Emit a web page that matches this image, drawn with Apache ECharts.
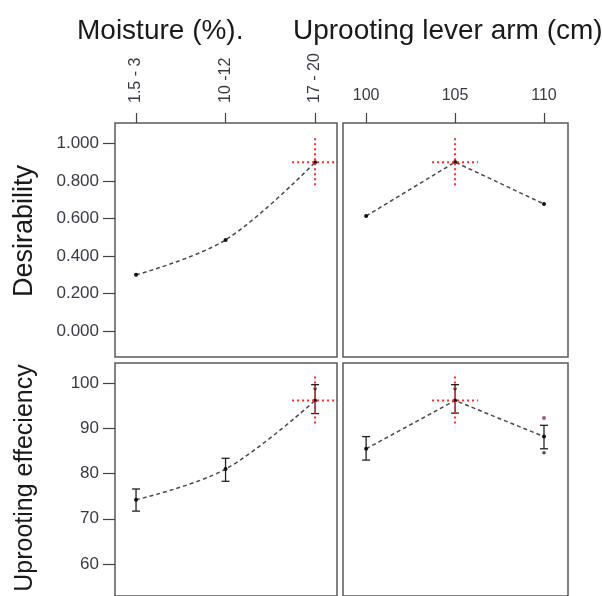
<!DOCTYPE html>
<html>
<head>
<meta charset="utf-8">
<script src="https://cdn.jsdelivr.net/npm/echarts@6/dist/echarts.min.js"></script>
<style>
html,body{margin:0;padding:0;background:#fff;}
#c{width:602px;height:596px;}
</style>
</head>
<body>
<div id="c"></div>
<script>
// ---- data ----
const moistureCats = ['1.5 - 3', '10 -12', '17 - 20'];
const moistureIdx = [0, 1, 2];
const leverVals = [100, 105, 110];
const desirTicks = [0, 0.2, 0.4, 0.6, 0.8, 1.0];
const effTicks = [60, 70, 80, 90, 100];

const desirMoisture = [0.300, 0.486, 0.899];
const desirLever = [0.613, 0.900, 0.677];

const effMoisture = [74.2, 81.0, 96.2];
const effMoistureLow = [71.7, 78.3, 93.3];
const effMoistureHigh = [76.6, 83.4, 99.7];

const effLever = [85.5, 96.2, 88.2];
const effLeverLow = [83.0, 93.4, 85.5];
const effLeverHigh = [88.2, 99.7, 90.7];

const extraDotsMoisture = [[2, 98.8]];
const extraDotsLever = [[105, 98.8], [110, 84.6]];
const outlierLever = [[110, 92.3]];

const optMoisture = 2, optLever = 105, optDesir = 0.899, optEff = 96.2;

// ---- helpers ----
const xLabelFont = {fontFamily: 'Liberation Sans, Arial, sans-serif', fontSize: 16, color: '#3a3a46'};
const yLabelFont = {fontFamily: 'Liberation Sans, Arial, sans-serif', fontSize: 17, color: '#3a3a46'};
const lineStyle = {color: '#4a4a4a', width: 1.5, type: [4, 3]};
const pts = (xs, ys) => xs.map((x, i) => [x, ys[i]]);
const errData = (xs, lo, hi) => xs.map((x, i) => [x, lo[i], hi[i]]);

function errRender(params, api) {
  const x = api.value(0);
  const a = api.coord([x, api.value(1)]);
  const b = api.coord([x, api.value(2)]);
  const w = 4;
  const st = {stroke: '#222', lineWidth: 1.3};
  return {type: 'group', children: [
    {type: 'line', shape: {x1: a[0], y1: a[1], x2: b[0], y2: b[1]}, style: st},
    {type: 'line', shape: {x1: a[0]-w, y1: a[1], x2: a[0]+w, y2: a[1]}, style: st},
    {type: 'line', shape: {x1: b[0]-w, y1: b[1], x2: b[0]+w, y2: b[1]}, style: st}
  ]};
}
function crossRender(params, api) {
  const c = api.coord([api.value(0), api.value(1)]);
  const st = {stroke: '#ff2a2a', lineWidth: 2, lineDash: [2, 3]};
  return {type: 'group', children: [
    {type: 'line', shape: {x1: c[0]-23, y1: c[1], x2: c[0]+23, y2: c[1]}, style: st},
    {type: 'line', shape: {x1: c[0], y1: c[1]-24, x2: c[0], y2: c[1]+24}, style: st}
  ]};
}

const chart = echarts.init(document.getElementById('c'), null, {renderer: 'canvas'});

const gridBase = {show: true, borderColor: '#5a5a5a', borderWidth: 1.5, backgroundColor: '#fff'};
const noLine = {show: false, onZero: false};
const tickStyle = {color: '#444', width: 1.2};

const option = {
  animation: false,
  backgroundColor: '#fff',
  grid: [
    Object.assign({left: 115, top: 123, width: 222, height: 234}, gridBase),
    Object.assign({left: 343, top: 123, width: 225, height: 234}, gridBase),
    Object.assign({left: 115, top: 363, width: 222, height: 243}, gridBase),
    Object.assign({left: 343, top: 363, width: 225, height: 243}, gridBase)
  ],
  xAxis: [
    {gridIndex: 0, type: 'value', position: 'top', min: -0.235, max: 2.245,
     splitLine: {show: false}, axisLine: noLine,
     axisTick: {show: true, length: 10, customValues: moistureIdx, lineStyle: tickStyle},
     axisLabel: Object.assign({customValues: moistureIdx, rotate: -90, margin: 20,
       formatter: v => moistureCats[Math.round(v)]}, xLabelFont)},
    {gridIndex: 1, type: 'value', position: 'top', min: 98.7, max: 111.35,
     splitLine: {show: false}, axisLine: noLine,
     axisTick: {show: true, length: 10, customValues: leverVals, lineStyle: tickStyle},
     axisLabel: Object.assign({customValues: leverVals, margin: 19}, xLabelFont)},
    {gridIndex: 2, type: 'value', min: -0.235, max: 2.245, show: false},
    {gridIndex: 3, type: 'value', min: 98.7, max: 111.35, show: false}
  ],
  yAxis: [
    {gridIndex: 0, type: 'value', min: -0.137, max: 1.108,
     splitLine: {show: false}, axisLine: noLine,
     axisTick: {show: true, length: 12, customValues: desirTicks, lineStyle: tickStyle},
     axisLabel: Object.assign({customValues: desirTicks, margin: 16, formatter: v => v.toFixed(3)}, yLabelFont)},
    {gridIndex: 1, type: 'value', min: -0.137, max: 1.108, show: false},
    {gridIndex: 2, type: 'value', min: 52.9, max: 104.5,
     splitLine: {show: false}, axisLine: noLine,
     axisTick: {show: true, length: 12, customValues: effTicks, lineStyle: tickStyle},
     axisLabel: Object.assign({customValues: effTicks, margin: 16}, yLabelFont)},
    {gridIndex: 3, type: 'value', min: 52.9, max: 104.5, show: false}
  ],
  series: [
    {type: 'line', xAxisIndex: 0, yAxisIndex: 0, data: pts(moistureIdx, desirMoisture), smooth: 0.35,
     lineStyle: lineStyle, symbol: 'circle', symbolSize: 4, itemStyle: {color: '#111'}},
    {type: 'line', xAxisIndex: 1, yAxisIndex: 1, data: pts(leverVals, desirLever),
     lineStyle: lineStyle, symbol: 'circle', symbolSize: 4, itemStyle: {color: '#111'}},
    {type: 'line', xAxisIndex: 2, yAxisIndex: 2, data: pts(moistureIdx, effMoisture), smooth: 0.35,
     lineStyle: lineStyle, symbol: 'circle', symbolSize: 4, itemStyle: {color: '#111'}},
    {type: 'line', xAxisIndex: 3, yAxisIndex: 3, data: pts(leverVals, effLever),
     lineStyle: lineStyle, symbol: 'circle', symbolSize: 4, itemStyle: {color: '#111'}},
    {type: 'custom', xAxisIndex: 2, yAxisIndex: 2, renderItem: errRender, data: errData(moistureIdx, effMoistureLow, effMoistureHigh), z: 3},
    {type: 'custom', xAxisIndex: 3, yAxisIndex: 3, renderItem: errRender, data: errData(leverVals, effLeverLow, effLeverHigh), z: 3},
    {type: 'scatter', xAxisIndex: 2, yAxisIndex: 2, data: extraDotsMoisture, symbolSize: 3.5, itemStyle: {color: '#222'}},
    {type: 'scatter', xAxisIndex: 3, yAxisIndex: 3, data: extraDotsLever, symbolSize: 3.5, itemStyle: {color: '#222'}},
    {type: 'scatter', xAxisIndex: 3, yAxisIndex: 3, data: outlierLever, symbolSize: 4, itemStyle: {color: '#8a3a3a'}},
    {type: 'custom', xAxisIndex: 0, yAxisIndex: 0, renderItem: crossRender, data: [[optMoisture, optDesir]], z: 5},
    {type: 'custom', xAxisIndex: 1, yAxisIndex: 1, renderItem: crossRender, data: [[optLever, optDesir]], z: 5},
    {type: 'custom', xAxisIndex: 2, yAxisIndex: 2, renderItem: crossRender, data: [[optMoisture, optEff]], z: 5},
    {type: 'custom', xAxisIndex: 3, yAxisIndex: 3, renderItem: crossRender, data: [[optLever, optEff]], z: 5}
  ],
  graphic: [
    {type: 'text', left: 77, top: 17, style: {text: 'Moisture (%).', font: '28px Liberation Sans, Arial, sans-serif', fill: '#1a1a1a'}},
    {type: 'text', left: 293, top: 17, style: {text: 'Uprooting lever arm (cm)', font: '28px Liberation Sans, Arial, sans-serif', fill: '#1a1a1a'}},
    {type: 'text', x: 25, y: 231, rotation: Math.PI / 2,
     style: {text: 'Desirability', font: '27px Liberation Sans, Arial, sans-serif', fill: '#1a1a1a', align: 'center', verticalAlign: 'middle'}},
    {type: 'text', x: 25, y: 478, rotation: Math.PI / 2,
     style: {text: 'Uprooting effeciency', font: '25px Liberation Sans, Arial, sans-serif', fill: '#1a1a1a', align: 'center', verticalAlign: 'middle'}}
  ]
};
chart.setOption(option);
</script>
</body>
</html>
